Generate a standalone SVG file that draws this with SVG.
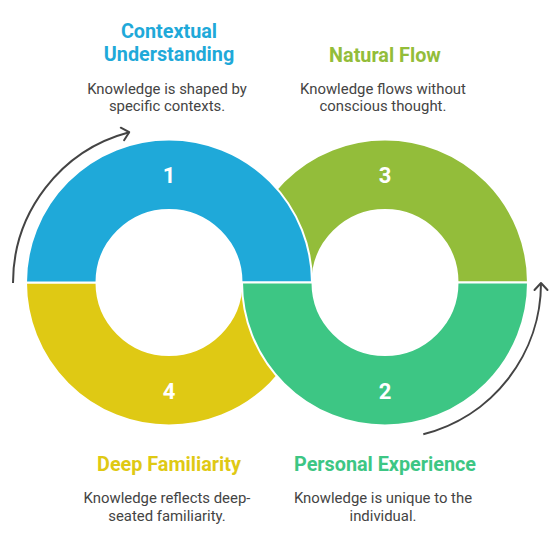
<svg xmlns="http://www.w3.org/2000/svg" width="556" height="534" viewBox="0 0 556 534">
<style>
.seg{stroke:#fff;stroke-width:2}
.num{font-family:Roboto,"Liberation Sans",sans-serif;font-weight:700;font-size:22px;fill:#fff;text-anchor:middle}
.title{font-family:Roboto,"Liberation Sans",sans-serif;font-weight:700;font-size:19.8px;text-anchor:middle}
.desc{font-family:Roboto,"Liberation Sans",sans-serif;font-size:14.9px;fill:#444;text-anchor:middle}
.arc{fill:none;stroke:#444;stroke-width:2}
</style>
<defs>
<marker id="ah" markerUnits="userSpaceOnUse" markerWidth="20" markerHeight="20" refX="0" refY="0" viewBox="-10 -10 20 20" orient="auto" overflow="visible">
<path d="M-7,-6.5 L0,0 L-7,6.5" fill="none" stroke="#444" stroke-width="2" stroke-linecap="round" stroke-linejoin="round"/>
</marker>
</defs>
<g id="connectors">
<path class="arc" d="M13,283 A156,156 0 0 1 129.2,132.2" marker-end="url(#ah)"/>
<path class="arc" d="M423.3,434.2 A156,156 0 0 0 541,283" marker-end="url(#ah)"/>
</g>
<g id="natural-flow">
<path class="seg" fill="#93bd3a" d="M242,282.5 A143,143 0 0 1 528,282.5 L457.5,282.5 A72.5,72.5 0 0 0 312.5,282.5 Z"/>
<text class="num" x="385" y="182.5">3</text>
<text class="title" x="385" y="61.5" fill="#93bd3a">Natural Flow</text>
<text class="desc" x="383" y="93.5">Knowledge flows without</text>
<text class="desc" x="383" y="111">conscious thought.</text>
</g>
<g id="deep-familiarity">
<path class="seg" fill="#dfc914" d="M26,282.5 A143,143 0 0 0 312,282.5 L241.5,282.5 A72.5,72.5 0 0 1 96.5,282.5 Z"/>
<text class="num" x="169" y="398.7">4</text>
<text class="title" x="169" y="470.7" fill="#dfc914">Deep Familiarity</text>
<text class="desc" x="167" y="502.7">Knowledge reflects deep-</text>
<text class="desc" x="167" y="520.7">seated familiarity.</text>
</g>
<g id="contextual-understanding">
<path class="seg" fill="#1fa9d9" d="M26,282.5 A143,143 0 0 1 312,282.5 L241.5,282.5 A72.5,72.5 0 0 0 96.5,282.5 Z"/>
<text class="num" x="169" y="182.5">1</text>
<text class="title" x="169" y="37.7" fill="#1fa9d9">Contextual</text>
<text class="title" x="169" y="61" fill="#1fa9d9">Understanding</text>
<text class="desc" x="167" y="93.5">Knowledge is shaped by</text>
<text class="desc" x="167" y="111">specific contexts.</text>
</g>
<g id="personal-experience">
<path class="seg" fill="#3dc684" d="M242,282.5 A143,143 0 0 0 528,282.5 L457.5,282.5 A72.5,72.5 0 0 1 312.5,282.5 Z"/>
<text class="num" x="385" y="398.7">2</text>
<text class="title" x="385" y="470.7" fill="#3dc684">Personal Experience</text>
<text class="desc" x="383" y="502.7">Knowledge is unique to the</text>
<text class="desc" x="383" y="520.7">individual.</text>
</g>
</svg>
